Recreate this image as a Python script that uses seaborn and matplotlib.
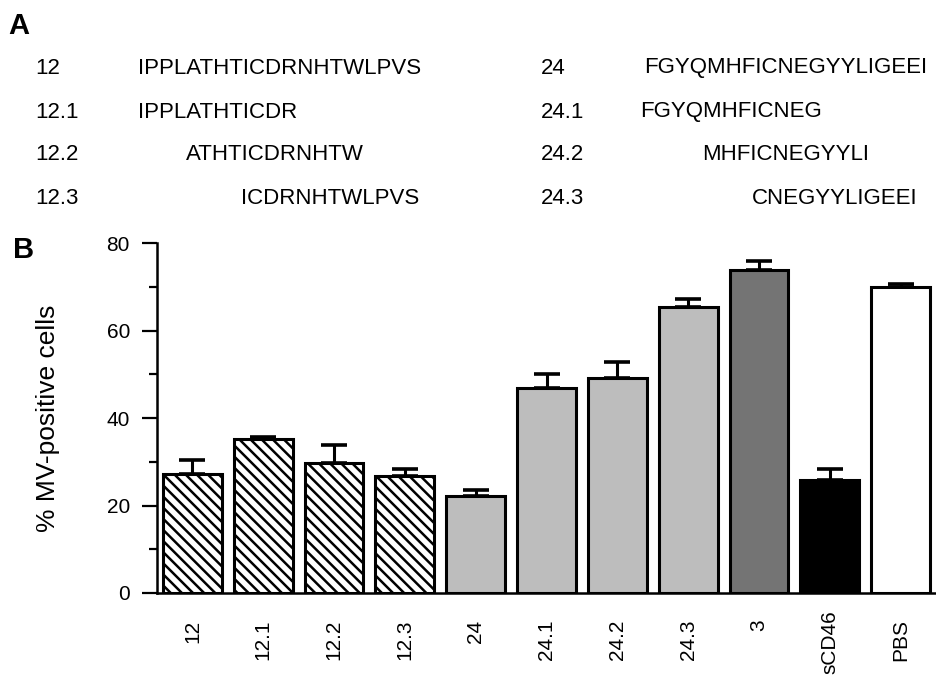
import numpy as np
import pandas as pd
import matplotlib
matplotlib.use("Agg")
import matplotlib.pyplot as plt
import seaborn as sns
from matplotlib.ticker import MultipleLocator

# ---------------- data ----------------
peptides = ["12", "12.1", "12.2", "12.3", "24", "24.1", "24.2", "24.3", "3", "sCD46", "PBS"]
mv_positive = [27.1, 35.3, 29.7, 26.7, 22.2, 46.9, 49.1, 65.4, 73.8, 25.9, 69.9]
mv_error = [3.4, 0.4, 4.1, 1.6, 1.3, 3.1, 3.6, 1.7, 2.2, 2.4, 0.8]
bar_colors = ["white", "white", "white", "white", "#bdbdbd", "#bdbdbd", "#bdbdbd",
              "#bdbdbd", "#747474", "black", "white"]
bar_hatches = ["\\\\\\", "\\\\\\", "\\\\\\", "\\\\\\", "", "", "", "", "", "", ""]

seq_labels_left = ["12", "12.1", "12.2", "12.3"]
seq_left = ["IPPLATHTICDRNHTWLPVS", "IPPLATHTICDR", "ATHTICDRNHTW", "ICDRNHTWLPVS"]
seq_labels_right = ["24", "24.1", "24.2", "24.3"]
seq_right = ["FGYQMHFICNEGYYLIGEEI", "FGYQMHFICNEG", "MHFICNEGYYLI", "CNEGYYLIGEEI"]

y_label = "% MV-positive cells"

# ---------------- style ----------------
sns.set_theme(style="ticks")
plt.rcParams["font.family"] = ["Liberation Sans", "DejaVu Sans"]
plt.rcParams["hatch.linewidth"] = 1.8
plt.rcParams["hatch.color"] = "black"
for k in ("text.color", "axes.labelcolor", "xtick.color", "ytick.color", "axes.edgecolor"):
    plt.rcParams[k] = "black"

W, H = 937, 679
fig = plt.figure(figsize=(W / 100, H / 100), dpi=100)
fig.patch.set_facecolor("white")

# ---------------- panel A (text) ----------------
def fx(px):
    return px / W

def fy(py):
    return 1 - py / H

fig.text(fx(8), fy(12), "A", fontsize=21, fontweight="bold", ha="left", va="top")
fig.text(fx(13), fy(236), "B", fontsize=21, fontweight="bold", ha="left", va="top")

row_y = [68, 112, 155, 198]
left_seq_x = [138, 138, 186, 241]
right_seq_x = [644, 640, 702, 752]
FS = 16
for i in range(4):
    fig.text(fx(35), fy(row_y[i]), seq_labels_left[i], fontsize=FS, ha="left", va="center")
    fig.text(fx(left_seq_x[i]), fy(row_y[i]), seq_left[i], fontsize=FS, ha="left", va="center")
    fig.text(fx(541), fy(row_y[i]), seq_labels_right[i], fontsize=FS, ha="left", va="center")
    fig.text(fx(right_seq_x[i]), fy(row_y[i]), seq_right[i], fontsize=FS, ha="left", va="center")

# ---------------- panel B (bars) ----------------
ax = fig.add_axes([157 / W, 1 - 593 / H, (936 - 157) / W, 350 / H])
df = pd.DataFrame({"peptide": peptides, "value": mv_positive})
sns.barplot(data=df, x="peptide", y="value", hue="peptide", palette=bar_colors,
            width=0.83, edgecolor="black", linewidth=2.2, legend=False,
            errorbar=None, saturation=1, ax=ax)

patches = [p for c in ax.containers for p in c]
for p, h in zip(patches, bar_hatches):
    p.set_hatch(h)
    p.set_edgecolor("black")

xpos = np.arange(len(peptides))
ax.errorbar(xpos, mv_positive, yerr=[np.zeros(len(mv_error)), mv_error], fmt="none",
            ecolor="black", elinewidth=2.2, capsize=9.5, capthick=2.6, zorder=3)

ax.set_xlim(-0.5, len(peptides) - 0.5)
ax.set_ylim(0, 80)
ax.yaxis.set_major_locator(MultipleLocator(20))
ax.yaxis.set_minor_locator(MultipleLocator(10))
ax.tick_params(axis="y", which="major", length=11, width=1.6, labelsize=15, pad=8.5, color="black")
ax.tick_params(axis="y", which="minor", length=6, width=1.6, color="black")
ax.tick_params(axis="x", which="both", length=0, labelsize=15, pad=19, labelrotation=90)
for lab in ax.get_xticklabels():
    lab.set_va("top")
    lab.set_ha("center")
    if lab.get_text() == "sCD46":
        lab.set_y(0.026)

ax.set_xlabel("")
ax.set_ylabel(y_label, fontsize=19)
ax.yaxis.set_label_coords(-0.125, 0.5)

sns.despine(ax=ax)
for s in ("left", "bottom"):
    ax.spines[s].set_linewidth(1.8)
    ax.spines[s].set_color("black")
ax.set_facecolor("white")

fig.savefig("out.png", dpi=100, facecolor="white")
